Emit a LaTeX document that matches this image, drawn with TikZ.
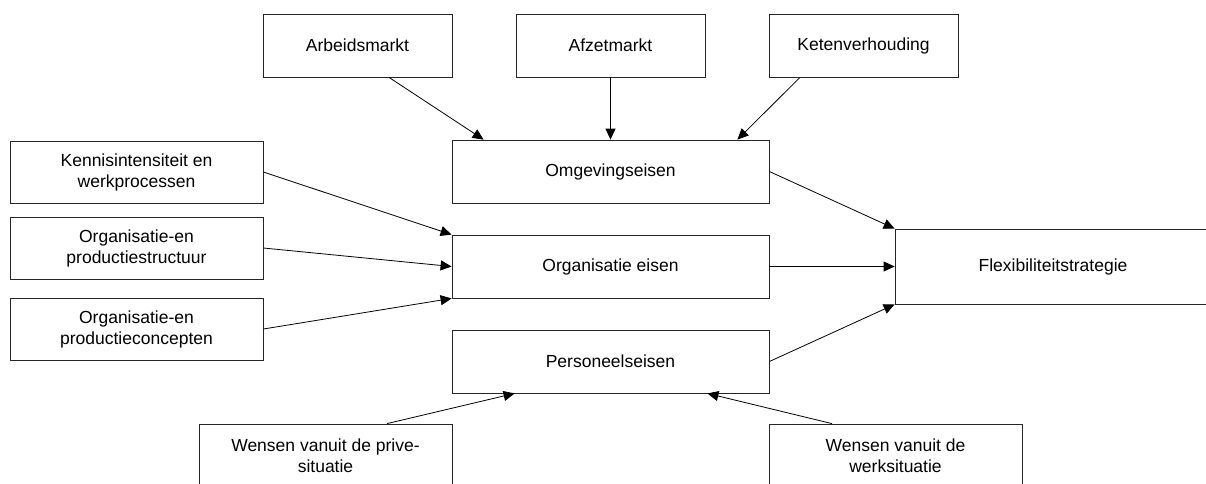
\documentclass[tikz,border=0pt]{standalone}
\usepackage{fontspec}
\setmainfont{Liberation Sans}
\usetikzlibrary{arrows.meta}
\tikzset{
  box/.style={draw=black!85, line width=0.8pt, rectangle, inner sep=0pt, align=center,
    font=\fontsize{17.5}{21}\selectfont},
  small/.style={box, minimum width=189pt, minimum height=63pt},
  mid/.style={box, minimum width=317pt, minimum height=63pt},
  side/.style={box, minimum width=253pt, minimum height=62pt},
  conn/.style={draw=black, line width=0.8pt, -{Triangle[length=11pt,width=10pt]}}
}
\begin{document}
\begin{tikzpicture}[x=1pt,y=-1pt]
\useasboundingbox (0,0) rectangle (1206,483);
\clip (0,0) rectangle (1206,483);
\node[small] (arb) at (357.5,45.5) {Arbeidsmarkt};
\node[small] (afz) at (610.5,45.5) {Afzetmarkt};
\node[small] (ket) at (863.5,45.5) {Ketenverhouding};
\node[mid] (omg) at (610.5,171.5) {Omgevingseisen};
\node[mid] (org) at (610.5,266.5) {Organisatie eisen};
\node[mid] (per) at (610.5,361.5) {Personeelseisen};
\node[box, minimum width=316pt, minimum height=75pt] (flex) at (1053,266.5) {Flexibiliteitstrategie};
\node[side] (ken) at (136.5,172) {Kennisintensiteit en\\werkprocessen};
\node[side] (str) at (136.5,248) {Organisatie-en\\productiestructuur};
\node[side] (con) at (136.5,329) {Organisatie-en\\productieconcepten};
\node[side, minimum height=63pt] (pri) at (325.5,455.5) {Wensen vanuit de prive-\\situatie};
\node[side, minimum height=63pt] (wer) at (895.5,455.5) {Wensen vanuit de\\werksituatie};
\draw[conn] ([xshift=31.5pt]arb.south) -- ([xshift=32pt]omg.north west);
\draw[conn] (afz.south) -- (omg.north);
\draw[conn] ([xshift=-63.5pt]ket.south) -- ([xshift=-32pt]omg.north east);
\draw[conn] (ken.east) -- (org.north west);
\draw[conn] (str.east) -- (org.west);
\draw[conn] (con.east) -- (org.south west);
\draw[conn] (omg.east) -- (flex.north west);
\draw[conn] (org.east) -- (flex.west);
\draw[conn] (per.east) -- (flex.south west);
\draw[conn] ([xshift=61.5pt]pri.north) -- ([xshift=63pt]per.south west);
\draw[conn] ([xshift=-63.5pt]wer.north) -- ([xshift=-62pt]per.south east);
\end{tikzpicture}
\end{document}
